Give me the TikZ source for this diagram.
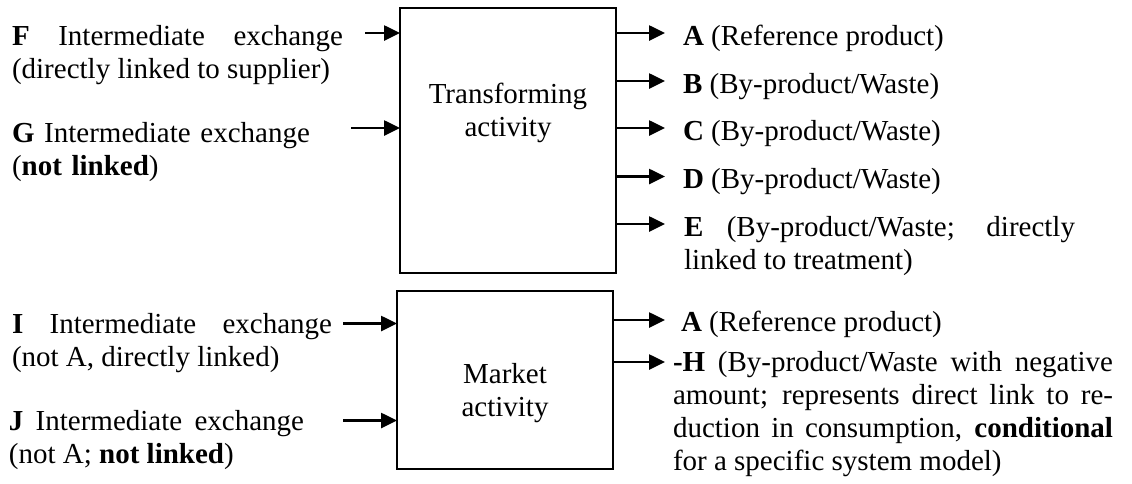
\documentclass[tikz,border=0pt]{standalone}
\usepackage{fontspec}
\setmainfont{Liberation Serif}
\usetikzlibrary{arrows.meta}

\begin{document}
\begin{tikzpicture}[x=0.5pt,y=-0.5pt,
    every node/.style={inner sep=0pt,outer sep=0pt,font=\fontsize{14.5}{16.5}\selectfont},
    activity/.style={draw,line width=1pt,minimum width=108pt},
    actname/.style={anchor=base,align=center},
    flowtext/.style={anchor=base west,text width=#1,align=justify},
    flowleft/.style={anchor=base west,text width=#1,align=left},
    flow/.style={line width=1.3pt,-{Triangle[length=8pt,width=7.5pt]}}]
  % Boundary
  \path[use as bounding box] (0,0) rectangle (1132,483);
  % Activities
  \node[activity,minimum height=132.5pt] (trans) at (508,140) {};
  \node[activity,minimum height=89pt] (market) at (505,380) {};
  \node[actname] (transname) at (508,136) {Transforming\\activity};
  \node[actname] (marketname) at (505,416) {Market\\activity};
  % Inputs of the transforming activity
  \node[flowtext=165.5pt] (F) at (12,45) {\textbf{F} Intermediate exchange\linebreak (directly linked to supplier)};
  \node[flowleft=160pt] (G) at (12,142) {\textbf{G} Intermediate exchange\\(\textbf{not linked})};
  \coordinate (inF) at (365,33);
  \coordinate (inG) at (351,128);
  \draw[flow] (inF) -- (inF -| trans.west);
  \draw[flow] (inG) -- (inG -| trans.west);
  % Outputs of the transforming activity
  \node[anchor=base west] (A) at (683,45) {\textbf{A} (Reference product)};
  \node[anchor=base west] (B) at (683,93) {\textbf{B} (By-product/Waste)};
  \node[anchor=base west] (C) at (683,140) {\textbf{C} (By-product/Waste)};
  \node[anchor=base west] (D) at (683,188.5) {\textbf{D} (By-product/Waste)};
  \node[flowtext=195.5pt] (E) at (684,236) {\textbf{E} (By-product/Waste; directly\linebreak linked to treatment)};
  \coordinate (outA) at (665,33);
  \coordinate (outB) at (665,81);
  \coordinate (outC) at (665,128);
  \coordinate (outD) at (665,176.5);
  \coordinate (outE) at (665,224);
  \draw[flow] (outA -| trans.east) -- (outA);
  \draw[flow] (outB -| trans.east) -- (outB);
  \draw[flow] (outC -| trans.east) -- (outC);
  \draw[flow] (outD -| trans.east) -- (outD);
  \draw[flow] (outE -| trans.east) -- (outE);
  % Inputs of the market activity
  \node[flowtext=160pt] (I) at (12,333) {\textbf{I} Intermediate exchange\linebreak (not A, directly linked)};
  \node[flowtext=147.5pt] (J) at (9,430) {\textbf{J} Intermediate exchange\linebreak (not A; \textbf{not linked})};
  \coordinate (inI) at (343,323.5);
  \coordinate (inJ) at (343,420.5);
  \draw[flow] (inI) -- (inI -| market.west);
  \draw[flow] (inJ) -- (inJ -| market.west);
  % Outputs of the market activity
  \node[anchor=base west] (mA) at (681,331) {\textbf{A} (Reference product)};
  \node[flowtext=220pt] (H) at (673,371) {\textbf{-H} (By-product/Waste with negative\linebreak amount; represents direct link to re-\linebreak duction in consumption, \textbf{conditional}\linebreak for a specific system model)};
  \coordinate (outmA) at (665,320);
  \coordinate (outH) at (665,362);
  \draw[flow] (outmA -| market.east) -- (outmA);
  \draw[flow] (outH -| market.east) -- (outH);
\end{tikzpicture}
\end{document}
